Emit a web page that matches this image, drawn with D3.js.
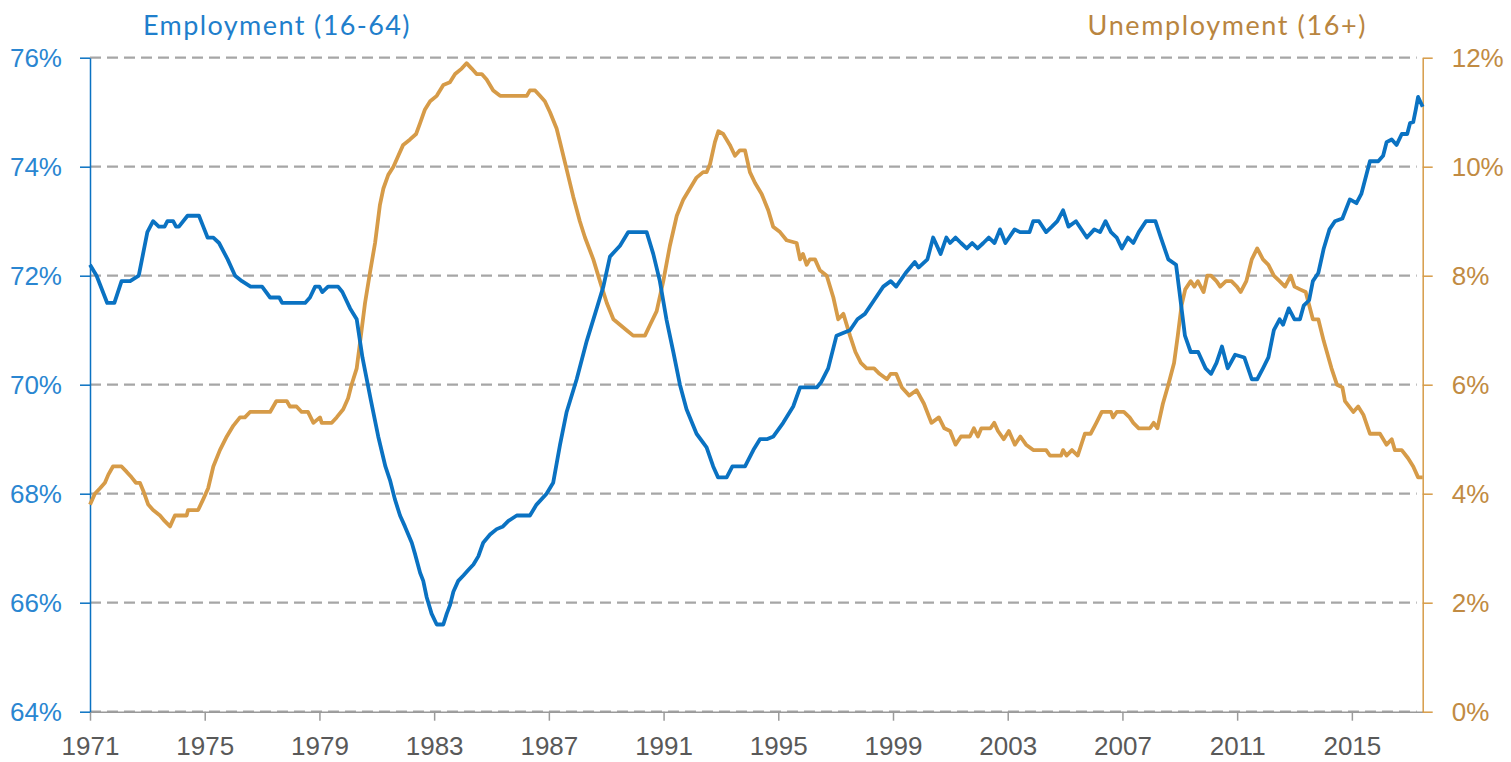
<!DOCTYPE html>
<html>
<head>
<meta charset="utf-8">
<script src="https://cdn.jsdelivr.net/npm/d3@7"></script>
<style>
  body { margin: 0; background: #fff; }
  svg { font-family: "Lato", "Noto Sans", sans-serif; }
</style>
</head>
<body>
<div id="chart"></div>
<script>
// x ticks and y ticks
const yearTicks = [1971, 1975, 1979, 1983, 1987, 1991, 1995, 1999, 2003, 2007, 2011, 2015];
const empTicks = [64, 66, 68, 70, 72, 74, 76];
const unempTicks = [0, 2, 4, 6, 8, 10, 12];

// employment rate 16-64, [decimal year, %]
const employment = [
  [1971.00, 72.2], [1971.23, 72.0], [1971.60, 71.5], [1971.85, 71.5], [1972.10, 71.9], [1972.40, 71.9],
  [1972.70, 72.0], [1973.00, 72.8], [1973.20, 73.0], [1973.40, 72.9], [1973.60, 72.9], [1973.70, 73.0],
  [1973.90, 73.0], [1974.00, 72.9], [1974.10, 72.9], [1974.40, 73.1], [1974.80, 73.1], [1974.95, 72.9],
  [1975.10, 72.7], [1975.30, 72.7], [1975.50, 72.6], [1975.80, 72.3], [1976.06, 72.0], [1976.30, 71.9],
  [1976.60, 71.8], [1977.00, 71.8], [1977.28, 71.6], [1977.60, 71.6], [1977.70, 71.5], [1978.50, 71.5],
  [1978.67, 71.6], [1978.85, 71.8], [1979.00, 71.8], [1979.10, 71.7], [1979.30, 71.8], [1979.65, 71.8],
  [1979.80, 71.7], [1980.07, 71.4], [1980.30, 71.2], [1980.50, 70.5], [1980.80, 69.7], [1981.05, 69.05],
  [1981.30, 68.5], [1981.46, 68.25], [1981.63, 67.9], [1981.81, 67.6], [1981.98, 67.4], [1982.22, 67.1],
  [1982.33, 66.9], [1982.51, 66.55], [1982.62, 66.4], [1982.74, 66.1], [1982.91, 65.8], [1983.09, 65.6],
  [1983.32, 65.6], [1983.44, 65.8], [1983.55, 65.95], [1983.67, 66.2], [1983.84, 66.4], [1984.02, 66.5],
  [1984.19, 66.6], [1984.37, 66.7], [1984.54, 66.85], [1984.71, 67.1], [1984.95, 67.25], [1985.18, 67.35],
  [1985.40, 67.4], [1985.59, 67.5], [1985.88, 67.6], [1986.34, 67.6], [1986.57, 67.8], [1986.92, 68.0],
  [1987.15, 68.2], [1987.39, 68.9], [1987.62, 69.5], [1987.97, 70.1], [1988.32, 70.8], [1988.67, 71.4],
  [1988.90, 71.8], [1989.13, 72.35], [1989.48, 72.55], [1989.77, 72.8], [1990.41, 72.8], [1990.64, 72.4],
  [1990.87, 71.9], [1991.10, 71.2], [1991.34, 70.6], [1991.57, 70.0], [1991.80, 69.55], [1992.15, 69.1],
  [1992.50, 68.85], [1992.73, 68.5], [1992.90, 68.3], [1993.20, 68.3], [1993.40, 68.5], [1993.84, 68.5],
  [1994.13, 68.8], [1994.36, 69.0], [1994.60, 69.0], [1994.83, 69.05], [1995.17, 69.3], [1995.52, 69.6],
  [1995.76, 69.95], [1996.34, 69.95], [1996.50, 70.05], [1996.74, 70.3], [1997.03, 70.9], [1997.26, 70.95],
  [1997.50, 71.0], [1997.76, 71.2], [1998.02, 71.3], [1998.34, 71.55], [1998.66, 71.8], [1998.92, 71.9],
  [1999.11, 71.8], [1999.44, 72.05], [1999.76, 72.25], [1999.89, 72.15], [2000.20, 72.3], [2000.40, 72.7],
  [2000.66, 72.4], [2000.86, 72.7], [2000.99, 72.6], [2001.18, 72.7], [2001.37, 72.6], [2001.57, 72.5],
  [2001.76, 72.6], [2001.95, 72.5], [2002.15, 72.6], [2002.34, 72.7], [2002.54, 72.6], [2002.73, 72.85],
  [2002.92, 72.6], [2003.24, 72.85], [2003.43, 72.8], [2003.76, 72.8], [2003.89, 73.0], [2004.09, 73.0],
  [2004.34, 72.8], [2004.54, 72.9], [2004.73, 73.0], [2004.93, 73.2], [2005.12, 72.9], [2005.38, 73.0],
  [2005.76, 72.7], [2006.02, 72.85], [2006.22, 72.8], [2006.41, 73.0], [2006.60, 72.8], [2006.80, 72.7],
  [2006.98, 72.5], [2007.19, 72.7], [2007.38, 72.6], [2007.57, 72.8], [2007.82, 73.0], [2008.15, 73.0],
  [2008.34, 72.7], [2008.60, 72.3], [2008.87, 72.2], [2008.99, 71.7], [2009.18, 70.9], [2009.38, 70.6],
  [2009.64, 70.6], [2009.90, 70.3], [2010.09, 70.2], [2010.28, 70.4], [2010.47, 70.7], [2010.67, 70.3],
  [2010.93, 70.55], [2011.25, 70.5], [2011.51, 70.1], [2011.70, 70.1], [2011.90, 70.3], [2012.09, 70.5],
  [2012.28, 71.0], [2012.48, 71.2], [2012.60, 71.1], [2012.80, 71.4], [2013.00, 71.2], [2013.19, 71.2],
  [2013.32, 71.45], [2013.51, 71.55], [2013.64, 71.9], [2013.83, 72.05], [2014.02, 72.5], [2014.22, 72.85],
  [2014.41, 73.0], [2014.67, 73.05], [2014.93, 73.4], [2015.16, 73.33], [2015.33, 73.5], [2015.63, 74.1],
  [2015.92, 74.1], [2016.09, 74.2], [2016.21, 74.45], [2016.39, 74.5], [2016.56, 74.4], [2016.74, 74.6],
  [2016.93, 74.6], [2017.03, 74.8], [2017.14, 74.82], [2017.23, 75.05], [2017.31, 75.28], [2017.47, 75.1]
];

// unemployment rate 16+, [decimal year, %]
const unemployment = [
  [1971.00, 3.8], [1971.17, 4.0], [1971.35, 4.1], [1971.52, 4.2], [1971.64, 4.35], [1971.80, 4.5],
  [1972.10, 4.5], [1972.28, 4.4], [1972.45, 4.3], [1972.60, 4.2], [1972.74, 4.2], [1972.86, 4.05],
  [1973.03, 3.8], [1973.20, 3.7], [1973.44, 3.6], [1973.60, 3.5], [1973.79, 3.4], [1973.96, 3.6],
  [1974.37, 3.6], [1974.42, 3.7], [1974.77, 3.7], [1974.95, 3.9], [1975.12, 4.1], [1975.30, 4.5],
  [1975.53, 4.8], [1975.77, 5.05], [1976.00, 5.25], [1976.23, 5.4], [1976.40, 5.4], [1976.58, 5.5],
  [1977.28, 5.5], [1977.50, 5.7], [1977.86, 5.7], [1977.97, 5.6], [1978.20, 5.6], [1978.38, 5.5],
  [1978.60, 5.5], [1978.79, 5.3], [1979.02, 5.4], [1979.08, 5.3], [1979.43, 5.3], [1979.60, 5.4],
  [1979.83, 5.55], [1980.00, 5.75], [1980.12, 6.0], [1980.30, 6.3], [1980.41, 6.75], [1980.59, 7.5],
  [1980.76, 8.05], [1980.94, 8.6], [1981.11, 9.3], [1981.23, 9.6], [1981.40, 9.85], [1981.58, 10.0],
  [1981.75, 10.2], [1981.92, 10.4], [1982.16, 10.5], [1982.37, 10.6], [1982.51, 10.8], [1982.68, 11.05],
  [1982.86, 11.2], [1983.09, 11.3], [1983.32, 11.5], [1983.55, 11.55], [1983.73, 11.7], [1983.96, 11.8],
  [1984.13, 11.9], [1984.31, 11.8], [1984.48, 11.7], [1984.66, 11.7], [1984.83, 11.6], [1985.06, 11.4],
  [1985.30, 11.3], [1986.23, 11.3], [1986.34, 11.4], [1986.52, 11.4], [1986.69, 11.3], [1986.86, 11.2],
  [1987.04, 11.0], [1987.27, 10.7], [1987.39, 10.45], [1987.62, 9.95], [1987.85, 9.45], [1988.08, 9.0],
  [1988.26, 8.7], [1988.55, 8.3], [1988.78, 7.9], [1989.02, 7.5], [1989.25, 7.2], [1989.48, 7.1],
  [1989.71, 7.0], [1989.94, 6.9], [1990.35, 6.9], [1990.53, 7.1], [1990.76, 7.35], [1990.99, 7.9],
  [1991.22, 8.55], [1991.46, 9.1], [1991.69, 9.4], [1991.92, 9.6], [1992.15, 9.8], [1992.38, 9.9],
  [1992.50, 9.9], [1992.62, 10.05], [1992.79, 10.45], [1992.91, 10.65], [1993.08, 10.6], [1993.31, 10.4],
  [1993.49, 10.2], [1993.66, 10.3], [1993.84, 10.3], [1994.01, 9.9], [1994.19, 9.7], [1994.42, 9.5],
  [1994.65, 9.2], [1994.82, 8.9], [1995.06, 8.8], [1995.29, 8.65], [1995.64, 8.6], [1995.76, 8.3],
  [1995.86, 8.4], [1995.99, 8.2], [1996.10, 8.3], [1996.28, 8.3], [1996.45, 8.1], [1996.69, 8.0],
  [1996.92, 7.6], [1997.09, 7.2], [1997.27, 7.3], [1997.50, 6.9], [1997.69, 6.6], [1997.88, 6.4],
  [1998.08, 6.3], [1998.34, 6.3], [1998.53, 6.2], [1998.79, 6.1], [1998.92, 6.2], [1999.11, 6.2],
  [1999.31, 5.95], [1999.57, 5.8], [1999.82, 5.9], [2000.08, 5.65], [2000.34, 5.3], [2000.60, 5.4],
  [2000.79, 5.2], [2000.99, 5.15], [2001.18, 4.9], [2001.37, 5.05], [2001.68, 5.05], [2001.82, 5.2],
  [2001.96, 5.05], [2002.08, 5.2], [2002.40, 5.2], [2002.53, 5.3], [2002.66, 5.15], [2002.86, 5.0],
  [2003.04, 5.15], [2003.25, 4.9], [2003.44, 5.05], [2003.64, 4.9], [2003.89, 4.8], [2004.34, 4.8],
  [2004.47, 4.7], [2004.86, 4.7], [2004.93, 4.8], [2005.05, 4.7], [2005.24, 4.8], [2005.44, 4.7],
  [2005.69, 5.1], [2005.89, 5.1], [2006.09, 5.3], [2006.28, 5.5], [2006.60, 5.5], [2006.67, 5.4],
  [2006.80, 5.5], [2007.05, 5.5], [2007.25, 5.4], [2007.38, 5.3], [2007.57, 5.2], [2007.96, 5.2],
  [2008.09, 5.3], [2008.22, 5.2], [2008.41, 5.65], [2008.60, 6.0], [2008.80, 6.4], [2008.93, 6.9],
  [2009.06, 7.45], [2009.19, 7.75], [2009.38, 7.9], [2009.51, 7.8], [2009.63, 7.9], [2009.83, 7.7],
  [2009.96, 8.0], [2010.09, 8.0], [2010.28, 7.9], [2010.41, 7.8], [2010.61, 7.9], [2010.80, 7.9],
  [2010.99, 7.8], [2011.12, 7.7], [2011.32, 7.9], [2011.51, 8.3], [2011.70, 8.5], [2011.90, 8.3],
  [2012.09, 8.2], [2012.28, 8.0], [2012.48, 7.9], [2012.67, 7.8], [2012.87, 8.0], [2013.00, 7.8],
  [2013.19, 7.75], [2013.39, 7.7], [2013.64, 7.2], [2013.83, 7.2], [2014.02, 6.8], [2014.29, 6.3],
  [2014.48, 6.0], [2014.67, 5.95], [2014.76, 5.7], [2015.05, 5.5], [2015.22, 5.6], [2015.40, 5.45],
  [2015.63, 5.1], [2015.98, 5.1], [2016.21, 4.9], [2016.39, 5.0], [2016.50, 4.8], [2016.74, 4.8],
  [2016.96, 4.65], [2017.14, 4.5], [2017.31, 4.3], [2017.47, 4.3]
];

const blue = "#0A72C2", gold = "#D69B48";

let W = 1511, H = 762;
let margin = { top: 57.7, right: 88.3, bottom: 50.3, left: 90 };

let svg = d3.select("#chart")
  .append("svg")
  .attr("width", W)
  .attr("height", H);

let x = d3.scaleLinear()
  .domain([1971, 2017.47])
  .range([margin.left, W - margin.right]);

let yL = d3.scaleLinear()
  .domain([64, 76])
  .range([H - margin.bottom, margin.top]);

let yR = d3.scaleLinear()
  .domain([0, 12])
  .range([H - margin.bottom, margin.top]);

// dashed gridlines
svg.append("g")
  .selectAll("line")
  .data(empTicks)
  .enter()
  .append("line")
  .attr("x1", x(1971))
  .attr("x2", x(2017.47) - 6)
  .attr("y1", function (d) { return yL(d); })
  .attr("y2", function (d) { return yL(d); })
  .attr("stroke", "#a6a6a6")
  .attr("stroke-width", 2.2)
  .attr("stroke-dasharray", "11,6");

// x axis
let xAxis = svg.append("g")
  .attr("transform", "translate(0," + (H - margin.bottom) + ")")
  .call(d3.axisBottom(x).tickValues(yearTicks).tickFormat(d3.format("d")).tickSize(9).tickSizeOuter(0));
xAxis.select(".domain").attr("stroke", "#9a9a9a").attr("stroke-width", 1.5);
xAxis.selectAll(".tick line").attr("stroke", "#9a9a9a").attr("stroke-width", 1.5);
xAxis.selectAll("text")
  .attr("fill", "#595959")
  .attr("font-size", 26)
  .attr("dy", 0)
  .attr("y", 43);

// left axis
let leftAxis = svg.append("g")
  .attr("transform", "translate(" + margin.left + ",0)")
  .call(d3.axisLeft(yL).tickValues(empTicks).tickFormat(function (d) { return d + "%"; }).tickSize(10).tickSizeOuter(0));
leftAxis.select(".domain").attr("stroke", blue).attr("stroke-width", 1.5);
leftAxis.selectAll(".tick line").attr("stroke", blue).attr("stroke-width", 1.5);
leftAxis.selectAll("text")
  .attr("fill", "#2a86d1")
  .attr("font-size", 26)
  .attr("x", -28);

// right axis
let rightAxis = svg.append("g")
  .attr("transform", "translate(" + (W - margin.right) + ",0)")
  .call(d3.axisRight(yR).tickValues(unempTicks).tickFormat(function (d) { return d + "%"; }).tickSize(10).tickSizeOuter(0));
rightAxis.select(".domain").attr("stroke", gold).attr("stroke-width", 1.5);
rightAxis.selectAll(".tick line").attr("stroke", gold).attr("stroke-width", 1.5);
rightAxis.selectAll("text")
  .attr("fill", "#c18b43")
  .attr("font-size", 26)
  .attr("x", 29);

// lines
svg.append("path")
  .datum(unemployment)
  .attr("fill", "none")
  .attr("stroke", gold)
  .attr("stroke-width", 3.8)
  .attr("stroke-linejoin", "round")
  .attr("d", d3.line()
    .x(function (d) { return x(d[0]); })
    .y(function (d) { return yR(d[1]); })
  );

svg.append("path")
  .datum(employment)
  .attr("fill", "none")
  .attr("stroke", blue)
  .attr("stroke-width", 3.8)
  .attr("stroke-linejoin", "round")
  .attr("d", d3.line()
    .x(function (d) { return x(d[0]); })
    .y(function (d) { return yL(d[1]); })
  );

// series titles
svg.append("text")
  .attr("x", 143)
  .attr("y", 35)
  .attr("fill", "#1f7fcc")
  .attr("font-size", 27)
  .attr("letter-spacing", 1.4)
  .text("Employment (16-64)");

svg.append("text")
  .attr("x", 1367)
  .attr("y", 35)
  .attr("text-anchor", "end")
  .attr("fill", "#b98540")
  .attr("font-size", 27)
  .attr("letter-spacing", 1.6)
  .text("Unemployment (16+)");
</script>
</body>
</html>
